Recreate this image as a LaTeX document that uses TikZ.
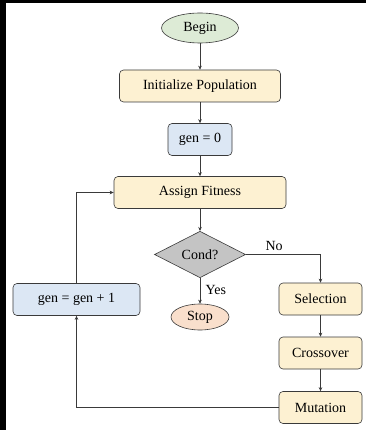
\documentclass[tikz,border=0pt]{standalone}
\usepackage{fontspec}
\setmainfont{Liberation Serif}
\usetikzlibrary{shapes.geometric,arrows.meta}

\definecolor{beginfill}{HTML}{DDEBD6}
\definecolor{stepfill}{HTML}{FDF1D2}
\definecolor{genfill}{HTML}{DCE7F4}
\definecolor{condfill}{HTML}{C4C4C4}
\definecolor{stopfill}{HTML}{F9DFCC}
\definecolor{linecol}{HTML}{3A3A3A}

\tikzset{
  box/.style={draw=linecol, line width=0.6pt, rounded corners=4pt, minimum height=32, inner sep=0pt},
  stepbox/.style={box, fill=stepfill},
  genbox/.style={box, fill=genfill},
  terminal/.style={ellipse, draw=linecol, line width=0.6pt, inner sep=0pt},
  arr/.style={draw=linecol, line width=0.5pt, -{Stealth[length=4pt,width=3.5pt]}}
}

\begin{document}
\begin{tikzpicture}[x=1pt, y=-1pt, font=\fontsize{14}{16}\selectfont]
  % --- frame ---
  \fill[black] (0,0) rectangle (366,430);
  \fill[white] (6,3) rectangle (366,430);
  \useasboundingbox (0,0) rectangle (366,430);

  % --- main column ---
  \node[terminal, fill=beginfill, minimum width=77, minimum height=30] (begin) at (200,28) {Begin};
  \node[stepbox, minimum width=161] (init) at (200,86) {Initialize Population};
  \node[genbox, minimum width=64] (gen0) at (200,139.5) {gen = 0};
  \node[stepbox, minimum width=172] (fit) at (200,192.5) {Assign Fitness};
  \node[diamond, draw=linecol, line width=0.6pt, fill=condfill, inner sep=0pt,
        minimum width=91, minimum height=45] (cond) at (200,254.5) {Cond?};
  \node[terminal, fill=stopfill, minimum width=58, minimum height=26] (stop) at (200,317) {Stop};

  % --- loop counter ---
  \node[genbox, minimum width=127] (inc) at (76.5,299.5) {gen = gen + 1};

  % --- operators on the right ---
  \foreach \name/\txt/\y in {sel/Selection/299, cross/Crossover/353, mut/Mutation/407.5} {
    \node[stepbox, minimum width=83] (\name) at (320.5,\y) {\txt};
  }

  % --- connectors ---
  \draw[arr] (begin) -- (init);
  \draw[arr] (init) -- (gen0);
  \draw[arr] (gen0) -- (fit);
  \draw[arr] (fit) -- (cond);
  \draw[arr] (cond) -- node[right, pos=0.45, xshift=2pt] {Yes} (stop);
  \draw[arr] (cond.east) -| node[above, pos=0.19] {No} (sel.north);
  \draw[arr] (sel) -- (cross);
  \draw[arr] (cross) -- (mut);
  \draw[arr] (mut.west) -| (inc.south);
  \draw[arr] (inc.north) |- (fit.west);
\end{tikzpicture}
\end{document}
